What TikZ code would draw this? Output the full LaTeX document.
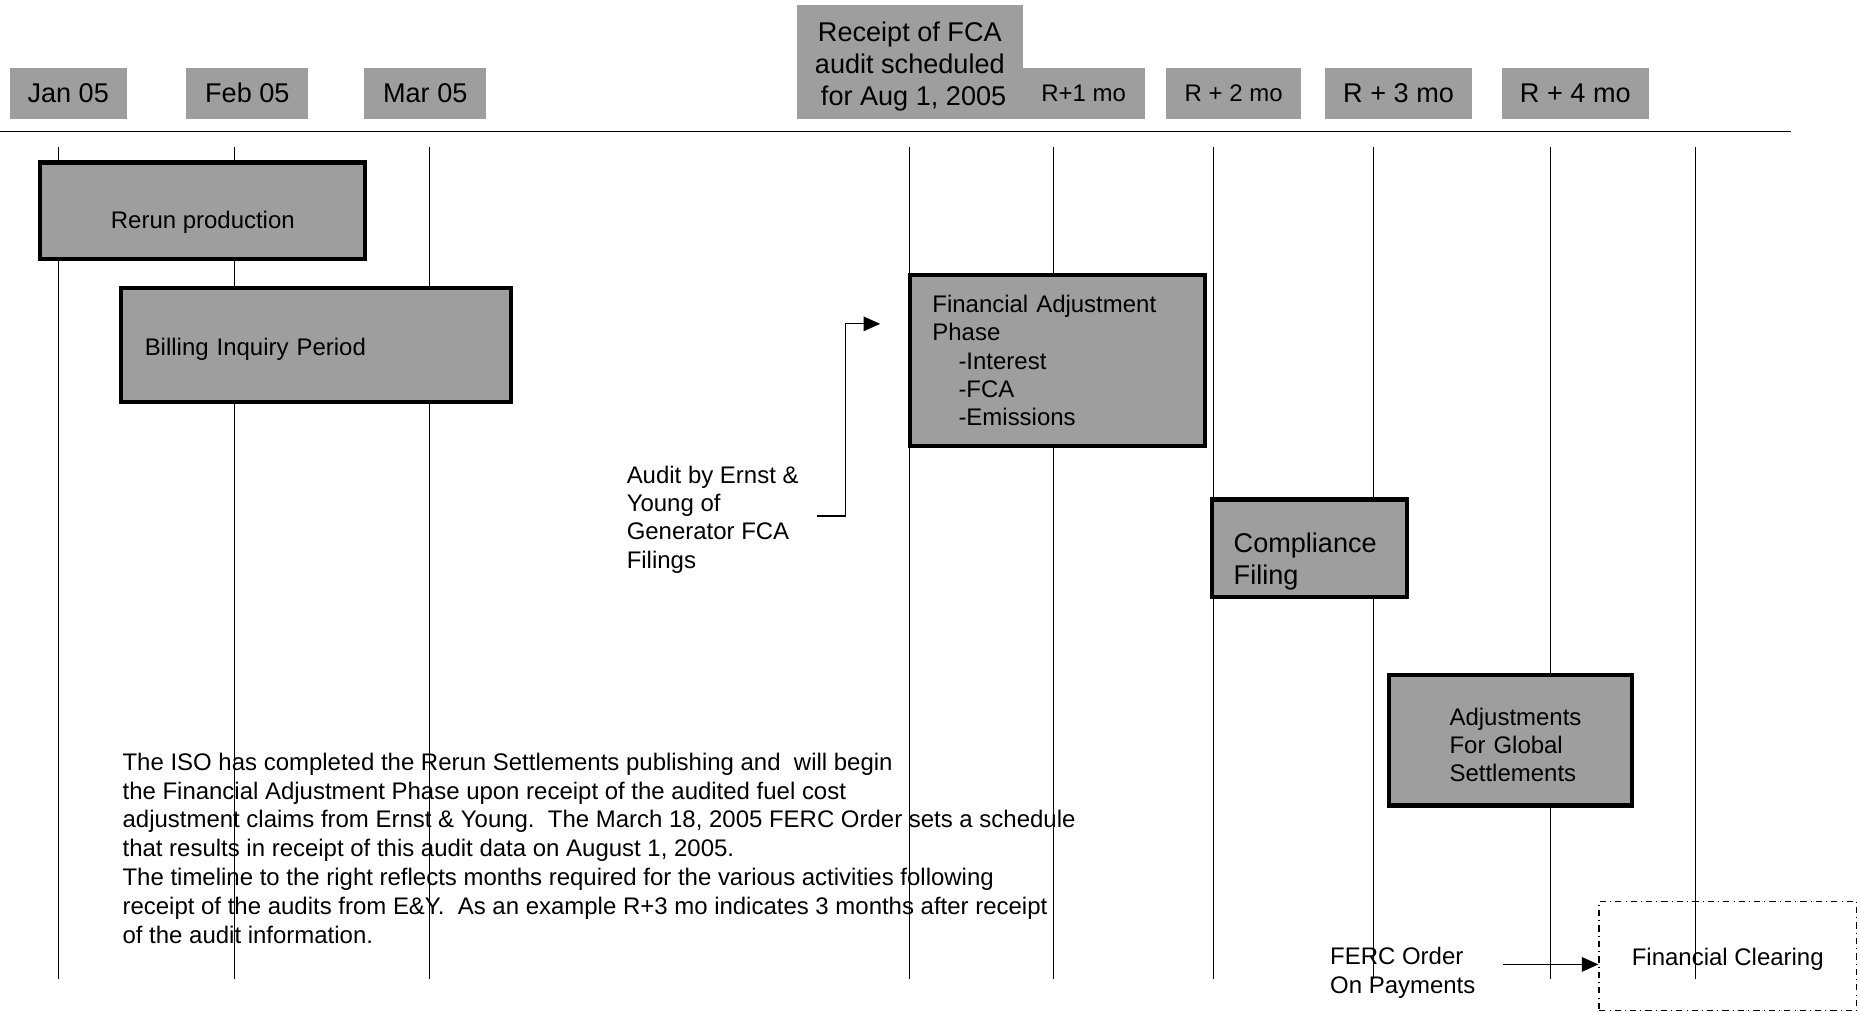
\documentclass[tikz,border=0pt]{standalone}
\usepackage{fontspec}
\setmainfont{Liberation Sans}
\usetikzlibrary{arrows.meta,positioning}

\definecolor{shade}{gray}{0.62}
% strut that pushes the first text line down inside a box
\newcommand{\dropline}[1]{\rule{0pt}{#1}}

\begin{document}
\begin{tikzpicture}[x=0.02cm,y=-0.02cm,
every node/.style={inner sep=0pt,font=\fontsize{11.5}{13.6}\selectfont},
hdr/.style={fill=shade,minimum height=0.86cm,font=\fontsize{13}{15.3}\selectfont},
bar/.style={fill=shade,draw=black,line width=2pt},
arr/.style={-{Triangle[length=8pt,width=7pt]},line width=0.6pt}]
\useasboundingbox (0,0) rectangle (1568,853);

% time axis
\draw[line width=0.7pt] (0,111) -- (1510,111);
\foreach \x in {49,198,362,767,888,1023,1158,1307,1429}
  \draw[line width=0.4pt] (\x,124) -- (\x,825);

% month heads
\node[hdr,minimum width=1.98cm] (Jan) at (57.5,78.5) {Jan 05};
\node[hdr,minimum width=2.06cm] (Feb) at (208.5,78.5) {Feb 05};
\node[hdr,minimum width=2.06cm] (Mar) at (358.5,78.5) {Mar 05};
\node[hdr,minimum width=3.8cm,minimum height=1.92cm,align=center] (Rcpt) at (767,52)
  {\dropline{14pt}Receipt of FCA\\audit scheduled\\\ for Aug 1, 2005};
\node[hdr,minimum width=2.06cm,font=\fontsize{11.5}{13.6}\selectfont] (R1) at (913.5,78.5) {R+1 mo};
\node[hdr,minimum width=2.28cm,font=\fontsize{11.5}{13.6}\selectfont] (R2) at (1040,78.5) {R + 2 mo};
\node[hdr,minimum width=2.48cm] (R3) at (1179,78.5) {R + 3 mo};
\node[hdr,minimum width=2.48cm] (R4) at (1328,78.5) {R + 4 mo};

% activity bars
\node[bar,minimum width=5.48cm,minimum height=1.62cm] (Rerun) at (171,177.5)
  {\dropline{19.8pt}Rerun production};
\node[bar,text width=5.78cm,inner xsep=0.4cm,minimum height=1.92cm,align=left] (Billing) at (266.5,291)
  {\dropline{11.8pt}Billing Inquiry Period};
\node[bar,text width=4.22cm,inner xsep=0.38cm,minimum height=2.88cm,align=left] (FAP) at (891.5,304)
  {Financial Adjustment\\Phase\\\hspace*{0.44cm}-Interest\\\hspace*{0.44cm}-FCA\\\hspace*{0.44cm}-Emissions};
\node[bar,text width=2.56cm,inner xsep=0.36cm,minimum height=1.64cm,align=left,
  font=\fontsize{13}{15.3}\selectfont] (Compl) at (1104,462) {\dropline{22pt}Compliance\\Filing};
\node[bar,text width=2.06cm,inner xsep=1.02cm,minimum height=2.2cm,align=left] (Glob) at (1273.5,624)
  {\dropline{12.9pt}Adjustments\\For Global\\Settlements};
\node[draw,dash dot,line width=0.6pt,minimum width=4.34cm,minimum height=1.84cm] (Clear) at (1456.5,806)
  {\dropline{11.5pt}Financial Clearing};

% notes
\node[anchor=west,align=left] (Audit) at (528,438)
  {Audit by Ernst \&\\Young of\\Generator FCA\\Filings};
\node[anchor=west,align=left] (Ferc) at (1121,820) {FERC Order\\On Payments};
\node[anchor=west,align=left,font=\fontsize{11.5}{13.8}\selectfont] (Note) at (103,715)
  {The ISO has completed the Rerun Settlements publishing and\ \ will begin\\
   the Financial Adjustment Phase upon receipt of the audited fuel cost\\
   adjustment claims from Ernst \& Young.\ \ The March 18, 2005 FERC Order sets a schedule\\
   that results in receipt of this audit data on August 1, 2005.\\
   The timeline to the right reflects months required for the various activities following\\
   receipt of the audits from E\&Y.\ \ As an example R+3 mo indicates 3 months after receipt\\
   of the audit information.};

% arrows
\coordinate (Bend) at (713,273);
\coordinate (Tip) at (742,273);
\draw[arr] (Audit.east) ++(15,-3) -| (Bend) -- (Tip);
\coordinate (FercOut) at (1267,813);
\draw[arr] (FercOut) -- (FercOut -| Clear.west);
\end{tikzpicture}
\end{document}
